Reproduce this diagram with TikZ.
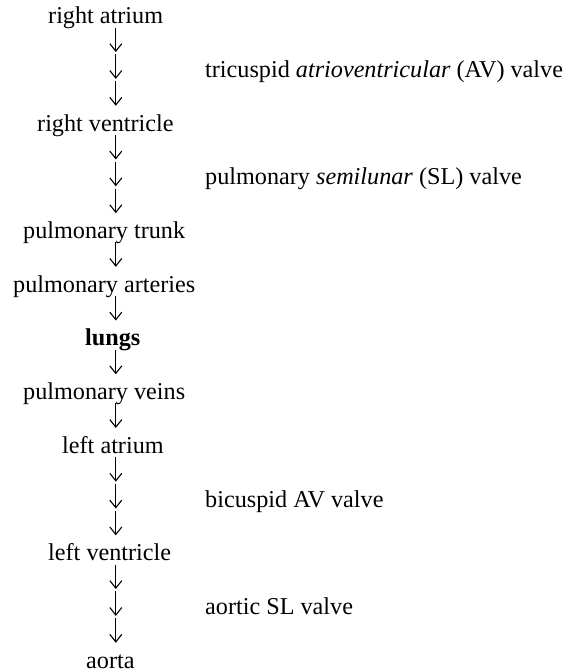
\documentclass[tikz,border=0pt]{standalone}
\usepackage{fontspec}
\setmainfont{Liberation Serif}
\usetikzlibrary{arrows.meta}
\begin{document}
\begin{tikzpicture}[x=1pt,y=-1pt,
  txt/.style={inner sep=0pt,font=\fontsize{24.2}{26.85}\selectfont},
  organ/.style={txt,anchor=base west},
  valve/.style={txt,anchor=base west},
  flow/.style={line width=1.1pt,-{Straight Barb[length=7.5pt,width=12pt,line width=1.1pt]}}]
\useasboundingbox (0,0) rectangle (571,672);
\def\ls{26.85}
\def\bz{23.7}
% organs (left column)
\node[organ] (ra)  at (48, \bz+0*\ls)  {right atrium};
\node[organ] (rv)  at (37, \bz+4*\ls)  {right ventricle};
\node[organ] (pt)  at (23, \bz+8*\ls)  {pulmonary trunk};
\node[organ] (pa)  at (13, \bz+10*\ls) {pulmonary arteries};
\node[organ] (lu)  at (85, \bz+12*\ls) {\bfseries lungs};
\node[organ] (pv)  at (23, \bz+14*\ls) {pulmonary veins};
\node[organ] (la)  at (62, \bz+16*\ls) {left atrium};
\node[organ] (lv)  at (48, \bz+20*\ls) {left ventricle};
\node[organ] (ao)  at (86, \bz+24*\ls) {aorta};
% arrows
\foreach \i in {1,2,3,5,6,7,9,11,13,15,17,18,19,21,22,23}{
  \coordinate (s\i) at (115.8, \bz+\i*\ls-23);
  \coordinate (e\i) at (115.8, \bz+\i*\ls+1.5);
  \draw[flow] (s\i) -- (e\i);
}
% valves (right column)
\node[valve] (tv) at (205, \bz+2*\ls)  {tricuspid \textit{atrioventricular} (AV) valve};
\node[valve] (sv) at (205, \bz+6*\ls)  {pulmonary \textit{semilunar} (SL) valve};
\node[valve] (bv) at (205, \bz+18*\ls) {bicuspid AV valve};
\node[valve] (av) at (205, \bz+22*\ls) {aortic SL valve};
\end{tikzpicture}
\end{document}
